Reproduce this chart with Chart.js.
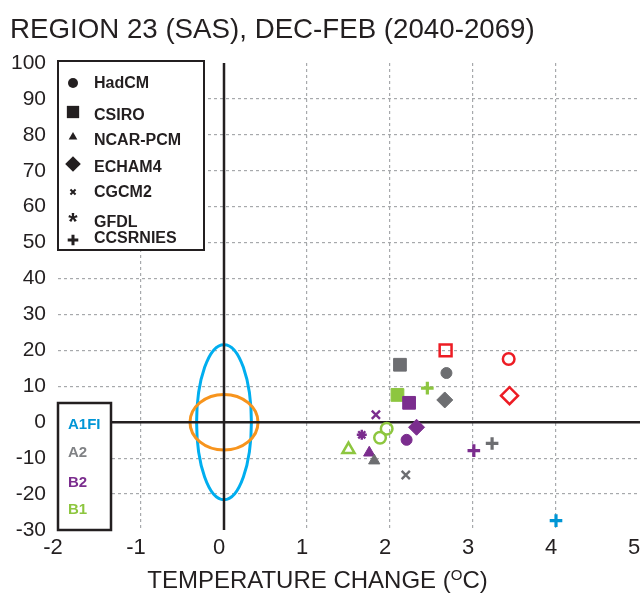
<!DOCTYPE html>
<html>
<head>
<meta charset="utf-8">
<script src="https://cdn.jsdelivr.net/npm/chart.js@4.4.1/dist/chart.umd.min.js"></script>
<style>
  html, body { margin: 0; padding: 0; background: #fff; }
  #wrap { width: 640px; height: 594px; position: relative; }
</style>
</head>
<body>
<div id="wrap"><canvas id="chart"></canvas></div>
<script>
// axis ticks
const xTicks = [-2, -1, 0, 1, 2, 3, 4, 5];
const yTicks = [-30, -20, -10, 0, 10, 20, 30, 40, 50, 60, 70, 80, 90, 100];

// model list (legend order)
const models = ['HadCM', 'CSIRO', 'NCAR-PCM', 'ECHAM4', 'CGCM2', 'GFDL', 'CCSRNIES'];
const scenarios = ['A1FI', 'A2', 'B2', 'B1'];

// temperature change (°C) / precipitation change (%) per scenario
const a1fiModels = ['CSIRO', 'HadCM', 'ECHAM4'];
const a1fiTemp = [2.67, 3.43, 3.44];
const a1fiPrecip = [20, 17.6, 7.4];

const a1fiCcsrModels = ['CCSRNIES'];
const a1fiCcsrTemp = [4.0];
const a1fiCcsrPrecip = [-27.4];

const a2Models = ['CSIRO', 'HadCM', 'ECHAM4', 'NCAR-PCM', 'CGCM2', 'CCSRNIES'];
const a2Temp = [2.12, 2.68, 2.66, 1.81, 2.19, 3.23];
const a2Precip = [16, 13.7, 6.2, -10.7, -14.7, -5.9];

const b2Models = ['CSIRO', 'CGCM2', 'ECHAM4', 'HadCM', 'GFDL', 'NCAR-PCM', 'CCSRNIES'];
const b2Temp = [2.23, 1.83, 2.32, 2.2, 1.66, 1.75, 3.01];
const b2Precip = [5.4, 2.1, -1.4, -4.9, -3.5, -8.5, -7.9];

const b1Models = ['CCSRNIES', 'CSIRO', 'HadCM', 'HadCM', 'NCAR-PCM'];
const b1Temp = [2.45, 2.09, 1.96, 1.88, 1.5];
const b1Precip = [9.5, 7.6, -1.8, -4.3, -7.6];

// natural variability ellipses (centre and half axes, in data units)
const ellipseCenterX = [0, 0];
const ellipseCenterY = [0, 0];
const ellipseHalfWidth = [0.33, 0.41];
const ellipseHalfHeight = [21.6, 7.75];

const FONT = '"Liberation Sans", Arial, Helvetica, sans-serif';
const INK = '#231f20';

const modelStyle = {
    'HadCM':    { style: 'circle',   r: 5.5 },
    'CSIRO':    { style: 'rect',     r: 9 },
    'NCAR-PCM': { style: 'triangle', r: 6.5 },
    'ECHAM4':   { style: 'rectRot',  r: 8 },
    'CGCM2':    { style: 'crossRot', r: 5.8 },
    'GFDL':     { style: 'star',     r: 5 },
    'CCSRNIES': { style: 'cross',    r: 6.3 }
};
const lineStyles = ['cross', 'crossRot', 'star'];

function makeSet(label, names, temps, precips, color, openNames) {
    const isOpen = m => openNames.includes(m);
    return {
        label: label,
        data: temps.map((t, i) => ({ x: t, y: precips[i] })),
        pointStyle: names.map(m => modelStyle[m].style),
        pointRadius: names.map(m => {
            const s = modelStyle[m];
            if (!isOpen(m)) return s.r;
            if (s.style === 'rect') return 8.4;
            if (s.style === 'triangle') return 7;
            if (s.style === 'rectRot') return 8.5;
            return 5.8;
        }),
        pointBackgroundColor: names.map(m => isOpen(m) ? 'rgba(0,0,0,0)' : color),
        pointBorderColor: color,
        pointBorderWidth: names.map(m => {
            const s = modelStyle[m].style;
            if (lineStyles.includes(s)) return s === 'cross' ? 3.2 : 2.4;
            return isOpen(m) ? 2.5 : 1;
        }),
        pointHoverRadius: 0,
        showLine: false
    };
}

const datasets = [
    makeSet('A1FI', a1fiModels, a1fiTemp, a1fiPrecip, '#ed1c24', a1fiModels),
    makeSet('A2', a2Models, a2Temp, a2Precip, '#6d6e71', []),
    makeSet('B2', b2Models, b2Temp, b2Precip, '#7b2d8e', []),
    makeSet('B1', b1Models, b1Temp, b1Precip, '#8dc63f', ['HadCM', 'NCAR-PCM']),
    makeSet('A1FI CCSRNIES', a1fiCcsrModels, a1fiCcsrTemp, a1fiCcsrPrecip, '#0095d4', [])
];

const ellipseColors = ['#00aeef', '#f7941d'];
const scenarioColors = ['#0096d6', '#808285', '#7b2d8e', '#8dc63f'];

const decor = {
    id: 'decor',
    beforeDatasetsDraw(chart) {
        const { ctx, chartArea: a, scales: { x, y } } = chart;
        ctx.save();
        // ellipses
        ellipseHalfWidth.forEach((hw, i) => {
            const cx = x.getPixelForValue(ellipseCenterX[i]);
            const cy = y.getPixelForValue(ellipseCenterY[i]);
            const rx = x.getPixelForValue(ellipseCenterX[i] + hw) - cx;
            const ry = cy - y.getPixelForValue(ellipseCenterY[i] + ellipseHalfHeight[i]);
            ctx.beginPath();
            ctx.ellipse(cx, cy, rx, ry, 0, 0, Math.PI * 2);
            ctx.strokeStyle = ellipseColors[i];
            ctx.lineWidth = 3;
            ctx.stroke();
        });
        // zero lines
        const x0 = x.getPixelForValue(0);
        const y0 = y.getPixelForValue(0);
        ctx.strokeStyle = INK;
        ctx.lineWidth = 2.5;
        ctx.beginPath();
        ctx.moveTo(x0, a.top);
        ctx.lineTo(x0, a.bottom);
        ctx.moveTo(a.left, y0);
        ctx.lineTo(640, y0);
        ctx.stroke();
        ctx.restore();
    },
    afterDraw(chart) {
        const { ctx } = chart;
        ctx.save();

        // model legend
        ctx.fillStyle = '#fff';
        ctx.fillRect(58, 61, 146, 189);
        ctx.strokeStyle = INK;
        ctx.lineWidth = 2;
        ctx.strokeRect(58, 61, 146, 189);
        const markerY = [83, 112, 137, 164, 192, 216, 240];
        const labelY = [84, 116, 141, 168, 193, 223, 239];
        const legendR = { circle: 5, rect: 8.7, triangle: 5, rectRot: 7.8, crossRot: 3.6, cross: 5.3 };
        ctx.font = 'bold 16px ' + FONT;
        ctx.textBaseline = 'middle';
        ctx.textAlign = 'left';
        models.forEach((m, i) => {
            const s = modelStyle[m].style;
            ctx.fillStyle = INK;
            ctx.strokeStyle = INK;
            if (s === 'star') {
                // asterisk glyph
                ctx.save();
                ctx.font = 'bold 24px ' + FONT;
                ctx.textAlign = 'center';
                ctx.textBaseline = 'alphabetic';
                ctx.fillText('*', 73, markerY[i] + 13.5);
                ctx.restore();
            } else {
                ctx.lineWidth = s === 'cross' ? 3 : 2;
                Chart.helpers.drawPoint(ctx, {
                    pointStyle: s,
                    radius: legendR[s],
                    rotation: 0,
                    borderWidth: lineStyles.includes(s) ? (s === 'cross' ? 3 : 2) : 0
                }, 73, markerY[i]);
            }
            ctx.fillStyle = INK;
            ctx.fillText(m, 94, labelY[i]);
        });

        // scenario legend
        ctx.fillStyle = '#fff';
        ctx.fillRect(58, 403, 53, 127);
        ctx.strokeStyle = INK;
        ctx.lineWidth = 2.5;
        ctx.strokeRect(58, 403, 53, 127);
        ctx.font = 'bold 15px ' + FONT;
        const scenY = [425, 453, 483, 510];
        scenarios.forEach((s, i) => {
            ctx.fillStyle = scenarioColors[i];
            ctx.fillText(s, 68, scenY[i]);
        });

        // chart title
        ctx.fillStyle = INK;
        ctx.textBaseline = 'alphabetic';
        ctx.font = '27.7px ' + FONT;
        ctx.fillText('REGION 23 (SAS), DEC-FEB (2040-2069)', 10, 38);

        // x axis title with superscript
        const big = '24px ' + FONT, small = '15px ' + FONT;
        const p1 = 'TEMPERATURE CHANGE (', p2 = 'O', p3 = 'C)';
        ctx.font = big;
        const w1 = ctx.measureText(p1).width, w3 = ctx.measureText(p3).width;
        ctx.font = small;
        const w2 = ctx.measureText(p2).width;
        let tx = 317.5 - (w1 + w2 + w3) / 2;
        const base = 588;
        ctx.font = big;
        ctx.fillText(p1, tx, base);
        tx += w1;
        ctx.font = small;
        ctx.fillText(p2, tx, base - 8);
        tx += w2;
        ctx.font = big;
        ctx.fillText(p3, tx, base);
        ctx.restore();
    }
};

const gridColor = (hidden) => (c) => hidden.includes(c.tick.value) ? 'rgba(0,0,0,0)' : '#a7a9ac';

new Chart(document.getElementById('chart'), {
    type: 'scatter',
    data: { datasets: datasets },
    options: {
        responsive: true,
        maintainAspectRatio: false,
        animation: false,
        events: [],
        layout: { autoPadding: false, padding: { top: 63, right: 1, bottom: 0, left: 0 } },
        plugins: {
            legend: { display: false },
            title: { display: false },
            tooltip: { enabled: false }
        },
        scales: {
            x: {
                type: 'linear',
                min: -2,
                max: 5,
                afterBuildTicks: s => { s.ticks = xTicks.map(v => ({ value: v })); },
                afterFit: s => { s.height = 64; s.paddingRight = 0; s.paddingLeft = 0; },
                ticks: { font: { size: 22, family: FONT }, color: INK, padding: 5, labelOffset: -5 },
                grid: { color: gridColor([-2, 0, 5]), lineWidth: 1.2, drawTicks: false },
                border: { display: false, dash: [3, 3] }
            },
            y: {
                type: 'linear',
                min: -30,
                max: 100,
                afterBuildTicks: s => { s.ticks = yTicks.map(v => ({ value: v })); },
                afterFit: s => { s.width = 58; },
                ticks: { font: { size: 21, family: FONT }, color: INK, padding: 12 },
                grid: { color: gridColor([-30, 0, 100]), lineWidth: 1.2, drawTicks: false },
                border: { display: false, dash: [3, 3] }
            }
        }
    },
    plugins: [decor]
});
</script>
</body>
</html>
